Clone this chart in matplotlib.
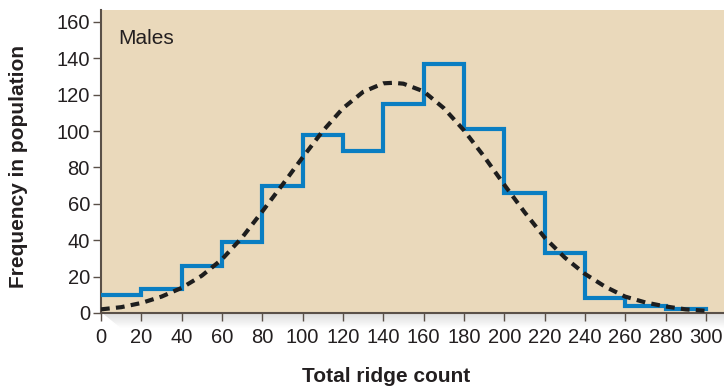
import numpy as np
import matplotlib
matplotlib.use("Agg")
import matplotlib.pyplot as plt

plt.rcParams['font.family'] = ['Liberation Sans', 'DejaVu Sans']

# Histogram of total ridge count (bin edges every 20)
bin_edges = [0, 20, 40, 60, 80, 100, 120, 140, 160, 180, 200, 220, 240, 260, 280, 300]
counts = [10, 13, 26, 39, 70, 98, 89, 115, 137, 101, 66, 33, 8, 4, 2]

# Fitted normal curve sampled every 10 units
curve_x = [0, 10, 20, 30, 40, 50, 60, 70, 80, 90, 100, 110, 120, 130, 140, 145,
           150, 160, 170, 180, 190, 200, 210, 220, 230, 240, 250, 260, 270, 280, 290, 300]
curve_y = [2.0, 3.2, 5.5, 9.0, 13.8, 20.5, 29.5, 41.5, 55.8, 70.5, 85.5, 100.0, 112.5,
           121.5, 126.2, 126.5, 126.0, 121.8, 112.6, 100.4, 86.0, 70.5, 55.5, 41.5,
           30.5, 21.5, 14.5, 9.0, 5.8, 3.6, 2.0, 1.2]

x_ticks = list(range(0, 301, 20))
y_ticks = list(range(0, 161, 20))

FS = 15
TICK_FS = 14.5
TXT = '#231F20'

fig = plt.figure(figsize=(7.24, 3.89), dpi=100)
ax = fig.add_axes([101 / 724, 1 - 313 / 389, 1 - 101 / 724, (313 - 10) / 389])
ax.set_facecolor('#EAD9BB')

# soft shadow strip under the x axis
shadow = fig.add_axes([101 / 724, 1 - 328 / 389, 1 - 101 / 724, 15 / 389], zorder=-1)
grad = np.linspace(0.86, 1.0, 64).reshape(-1, 1) * np.ones((1, 200))
shadow.imshow(np.dstack([grad, grad, grad]), aspect='auto', extent=[0, 1, 0, 1],
              interpolation='bilinear')
shadow.fill([0, 0.03, 0], [1, 0, 0], color='white', zorder=3)
shadow.set_xlim(0, 1)
shadow.set_ylim(0, 1)
shadow.set_axis_off()

step_x = [bin_edges[0]]
step_y = [counts[0]]
for i, c in enumerate(counts):
    step_x += [bin_edges[i], bin_edges[i + 1]]
    step_y += [c, c]
ax.plot(step_x, step_y, color='#0A7EC2', lw=3.0, solid_joinstyle='miter', zorder=3)

ax.plot(curve_x, curve_y, color='#1E1E1E', lw=3.0, linestyle=(0, (2.1, 1.5)),
        dash_capstyle='butt', zorder=4)

ax.set_xlim(0, 309)
ax.set_ylim(0, 166.5)
ax.set_xticks(x_ticks)
ax.set_yticks(y_ticks)
ax.tick_params(axis='both', direction='out', length=6, width=1.0, color='#5A5048',
               labelsize=TICK_FS, labelcolor=TXT)
ax.tick_params(axis='x', pad=5)
ax.tick_params(axis='y', pad=2)
for s in ['top', 'right']:
    ax.spines[s].set_visible(False)
for s in ['left', 'bottom']:
    ax.spines[s].set_color('#5A5048')
    ax.spines[s].set_linewidth(1.5)

ax.text(0.027, 0.905, 'Males', transform=ax.transAxes, fontsize=FS, color=TXT,
        ha='left', va='center')

fig.text(386 / 724, 1 - 377 / 389, 'Total ridge count', fontsize=FS,
         fontweight='bold', color=TXT, ha='center', va='center')
fig.text(19 / 724, 1 - 167 / 389, 'Frequency in population', fontsize=FS,
         fontweight='bold', color=TXT, ha='center', va='center', rotation=90)

fig.savefig('out.png', dpi=100, facecolor='white')
